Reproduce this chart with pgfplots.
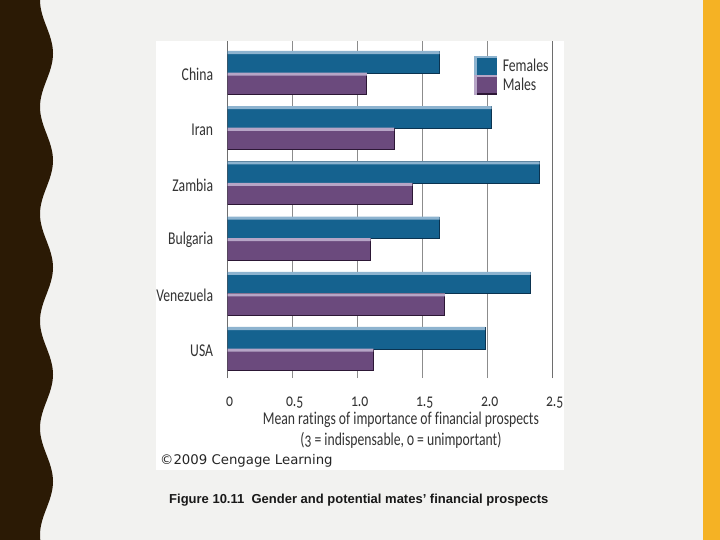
\documentclass[border=0pt]{standalone}
\usepackage{pgfplots}
\usepackage{pgfplotstable}
\pgfplotsset{compat=1.18}
\usepackage{fontspec}
\setmainfont{Carlito}[FakeStretch=0.76, Numbers=OldStyle, Ligatures=NoCommon]
\newfontfamily\copyfont{DejaVu Sans}
\newfontfamily\capfont{Liberation Sans}
\newcommand\chartfont{\fontsize{18}{20.7}\selectfont}
\definecolor{bg}{HTML}{F2F2F0}
\definecolor{band}{HTML}{2B1A05}
\definecolor{orangebar}{HTML}{F5B224}
\definecolor{fem}{HTML}{15628F}
\definecolor{femlight}{HTML}{8DB3CF}
\definecolor{femdark}{HTML}{0B3350}
\definecolor{mal}{HTML}{6B4A7D}
\definecolor{mallight}{HTML}{B6A5C6}
\definecolor{maldark}{HTML}{2C1735}
\definecolor{gridc}{HTML}{8C8C8C}
\definecolor{axc}{HTML}{6E6E6E}
\definecolor{labc}{HTML}{333333}
% y: 0 = USA ... 5 = China
\pgfplotstableread{
y  fem   mal
0  1.98  1.12
1  2.33  1.67
2  1.63  1.10
3  2.40  1.42
4  2.03  1.28
5  1.63  1.07
}\ratings
\begin{document}
\begin{tikzpicture}
\useasboundingbox (0pt,0pt) rectangle (720pt,-540pt);
\fill[bg] (0pt,0pt) rectangle (720pt,-540pt);
\begin{scope}
\clip (0pt,0pt) rectangle (720pt,-540pt);
\begin{scope}[x=1pt,y=1pt,rotate=-90]
\fill[band] (0,0) -- (0,40) \foreach \k in {0,...,5}{ cos ({\k*107+26.75},46.5) sin ({\k*107+53.5},53) cos ({\k*107+80.25},46.5) sin ({\k*107+107},40) } -- (642,0) -- cycle;
\end{scope}
\end{scope}
\fill[orangebar] (702.7pt,0pt) rectangle (720pt,-540pt);
\fill[white] (156pt,-41pt) rectangle (564pt,-470pt);
\begin{axis}[
  at={(227.7pt,-41pt)}, anchor=north west,
  scale only axis, width=325pt, height=337pt,
  xmin=0, xmax=2.5, ymin=-0.525, ymax=5.58,
  xbar, bar width=0.39,
  xtick={0,0.5,1,1.5,2,2.5}, xticklabels={0,0.5,1.0,1.5,2.0,2.5},
  ytick={0,1,2,3,4,5}, yticklabels={USA,Venezuela,Bulgaria,Zambia,Iran,China},
  major tick length=0pt,
  xmajorgrids, grid style={gridc, line width=0.9pt},
  separate axis lines,
  x axis line style={draw=none},
  y axis line style={draw=axc, line width=1pt},
  tick label style={font=\chartfont, text=labc},
  xticklabel style={anchor=base, yshift=-28pt, xshift=2pt, inner sep=0pt},
  yticklabel style={anchor=east, xshift=-14.4pt, yshift=-1.5pt, inner sep=0pt},
  xlabel={Mean ratings of importance of financial prospects\\(3 = indispensable, 0 = unimportant)},
  xlabel style={font=\chartfont, text=labc, align=center, at={(axis description cs:0.533,0)}, anchor=north, yshift=-34pt, inner sep=0pt},
  legend style={at={(axis cs:1.895,5.308)}, anchor=north west, draw=none, fill=none,
    inner sep=0pt, outer sep=0pt, row sep=-2pt, column sep=5.7pt,
    font=\chartfont, text=labc, nodes={inner sep=0pt}},
  legend cell align=left,
]
% base bars
\addplot[fill=fem, draw=femdark, line width=1pt, bar shift=0.195,
  legend image code/.code={\fill[femlight] (0pt,-10pt) rectangle (22pt,9.5pt); \fill[fem] (2.5pt,-10pt) rectangle (22pt,7.3pt);}]
  table[x=fem, y=y] {\ratings};
\addlegendentry{Females}
\addplot[fill=mal, draw=maldark, line width=1pt, bar shift=-0.195,
  legend image code/.code={\fill[mallight] (0pt,-10pt) rectangle (22pt,9.5pt); \fill[mal] (2.5pt,-10pt) rectangle (22pt,7.3pt); \fill[maldark] (2.5pt,-10pt) rectangle (22pt,-8.5pt);}]
  table[x=mal, y=y] {\ratings};
\addlegendentry{Males}
% top highlights
\addplot[forget plot, fill=femlight, draw=none, bar width=0.055, bar shift=0.3715]
  table[x=fem, y=y] {\ratings};
\addplot[forget plot, fill=mallight, draw=none, bar width=0.055, bar shift=-0.0185]
  table[x=mal, y=y] {\ratings};
\end{axis}
\node[anchor=base west, inner sep=0pt, text=black!85, font=\copyfont\fontsize{13.3}{16}\selectfont] at (160pt,-464pt) {©2009 Cengage Learning};
\node[anchor=base west, inner sep=0pt, text=black!90, font=\capfont\bfseries\fontsize{13}{16}\selectfont] at (169pt,-503.3pt) {Figure 10.11\ \ Gender and potential mates’ financial prospects};
\end{tikzpicture}
\end{document}
